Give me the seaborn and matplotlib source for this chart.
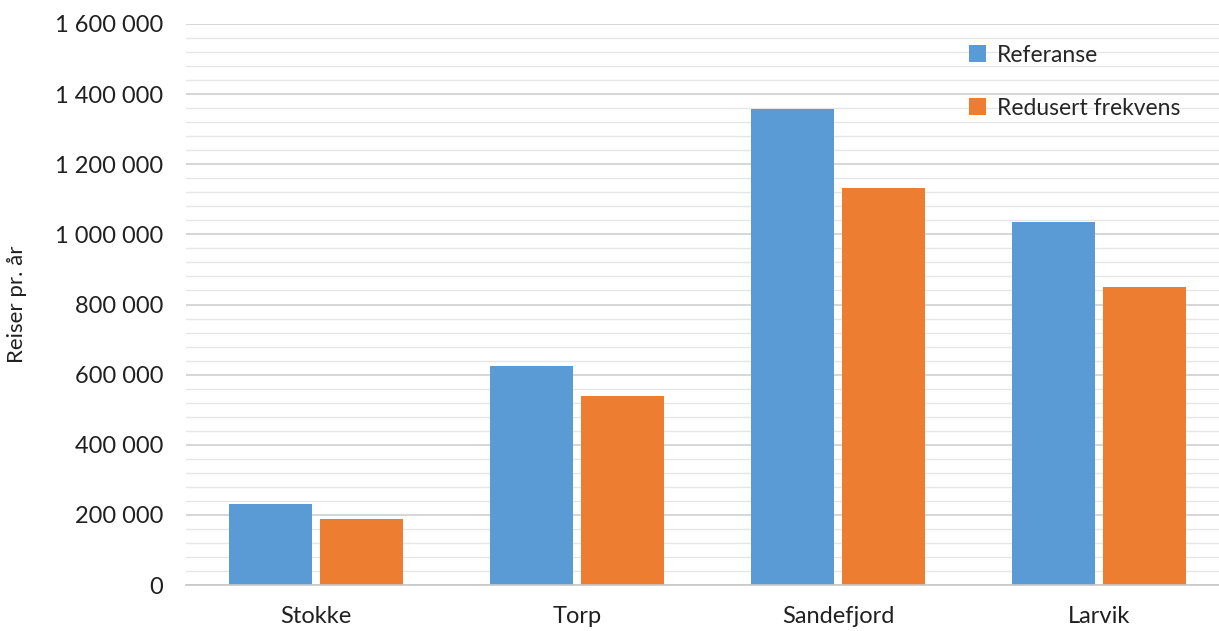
import matplotlib
matplotlib.use("Agg")
import matplotlib.pyplot as plt
from matplotlib.ticker import MultipleLocator, FuncFormatter
import seaborn as sns
import pandas as pd

# Annual trips per station under two timetable scenarios
stations = ["Stokke", "Torp", "Sandefjord", "Larvik"]
referanse = [231000, 625000, 1358000, 1036000]
redusert = [188000, 539000, 1133000, 850000]
series_names = ["Referanse", "Redusert frekvens"]
colors = ["#5B9BD5", "#ED7D31"]

df = pd.DataFrame({
    "Stasjon": stations * 2,
    "Reiser": referanse + redusert,
    "Scenario": [series_names[0]] * len(stations) + [series_names[1]] * len(stations),
})

sns.set_theme(style="white")
plt.rcParams["font.family"] = ["Lato", "DejaVu Sans"]

fig = plt.figure(figsize=(12.19, 6.31), dpi=100)
W, H = 1219, 631
left, right, top, bottom = 185.5, 1229.5, 24, 585
ax = fig.add_axes([left / W, 1 - bottom / H, (right - left) / W, (bottom - top) / H])

sns.barplot(data=df, x="Stasjon", y="Reiser", hue="Scenario",
            palette=colors, width=0.697, gap=0.088, ax=ax,
            edgecolor="none", saturation=1, legend=True)

ax.set_ylim(0, 1600000)
ax.yaxis.set_major_locator(MultipleLocator(200000))
ax.yaxis.set_minor_locator(MultipleLocator(40000))
ax.yaxis.set_major_formatter(FuncFormatter(lambda v, p: f"{int(v):,}".replace(",", " ")))
ax.grid(axis="y", which="major", color="#D0D0D0", linewidth=1.2)
ax.grid(axis="y", which="minor", color="#E6E6E6", linewidth=1.0)
ax.set_axisbelow(True)

for s in ["top", "right", "left"]:
    ax.spines[s].set_visible(False)
ax.spines["bottom"].set_color("#C8C8C8")
ax.spines["bottom"].set_linewidth(1.2)

ax.tick_params(axis="y", which="both", length=0, pad=16, labelsize=17, labelcolor="#202020")
ax.tick_params(axis="x", length=0, pad=15, labelsize=17, labelcolor="#202020")
ax.set_xlabel("")
ax.set_ylabel("Reiser pr. år", fontsize=16, color="#202020", labelpad=20)

leg = ax.legend(loc="upper left", bbox_to_anchor=((948 - left) / (right - left), 1.0),
                frameon=False, fontsize=16.5, labelspacing=1.4, handlelength=0.75,
                handleheight=0.75, handletextpad=0.5)

fig.savefig("out.png", dpi=100)
